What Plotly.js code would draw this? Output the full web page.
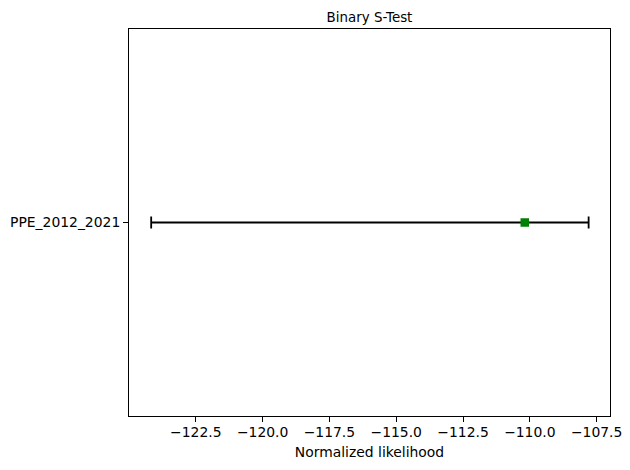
<!DOCTYPE html>
<html>
<head>
<meta charset="utf-8">
<script src="https://cdn.plot.ly/plotly-3.0.1.min.js"></script>
<style>html,body{margin:0;padding:0;background:#fff;}#chart{width:630px;height:470px;}</style>
</head>
<body>
<div id="chart"></div>
<script>
const models = ['PPE_2012_2021'];
const observed = [-110.19];
const lowerBound = [-124.17];
const upperBound = [-107.80];
const xTickVals = [-122.5, -120.0, -117.5, -115.0, -112.5, -110.0, -107.5];

const yIdx = models.map((m, i) => i);
const trace = {
  type: 'scatter',
  mode: 'markers',
  x: observed,
  y: yIdx,
  marker: {symbol: 'square', size: 8.5, color: 'green'},
  error_x: {
    type: 'data',
    symmetric: false,
    array: upperBound.map((u, i) => u - observed[i]),
    arrayminus: lowerBound.map((l, i) => observed[i] - l),
    color: 'black',
    thickness: 1.8,
    width: 6
  },
  showlegend: false,
  hoverinfo: 'none'
};

const font = {family: 'DejaVu Sans, sans-serif', size: 13.9, color: 'black'};
const layout = {
  width: 630, height: 470,
  paper_bgcolor: 'white', plot_bgcolor: 'white',
  margin: {l: 129, r: 20, t: 29, b: 54},
  font: font,
  title: {text: 'Binary S-Test', font: {family: 'DejaVu Sans, sans-serif', size: 13.4, color: 'black'},
          x: 0.5865, xref: 'container', xanchor: 'center', y: 1 - 17/470, yref: 'container', yanchor: 'middle'},
  xaxis: {
    range: [-125.0, -107.0],
    tickvals: xTickVals,
    tickformat: '.1f',
    ticks: 'outside', ticklen: 5, tickwidth: 1, tickcolor: 'black',
    ticklabelstandoff: -2,
    showline: true, linecolor: 'black', linewidth: 1, mirror: true,
    showgrid: false, zeroline: false,
    tickfont: font,
    title: {text: 'Normalized likelihood', font: font, standoff: 8}
  },
  yaxis: {
    range: [-1, 1],
    tickvals: yIdx,
    ticktext: models,
    ticks: 'outside', ticklen: 5, tickwidth: 1, tickcolor: 'black',
    showline: true, linecolor: 'black', linewidth: 1, mirror: true,
    showgrid: false, zeroline: false,
    tickfont: font
  }
};
Plotly.newPlot('chart', [trace], layout, {staticPlot: true, displayModeBar: false});
</script>
</body>
</html>
